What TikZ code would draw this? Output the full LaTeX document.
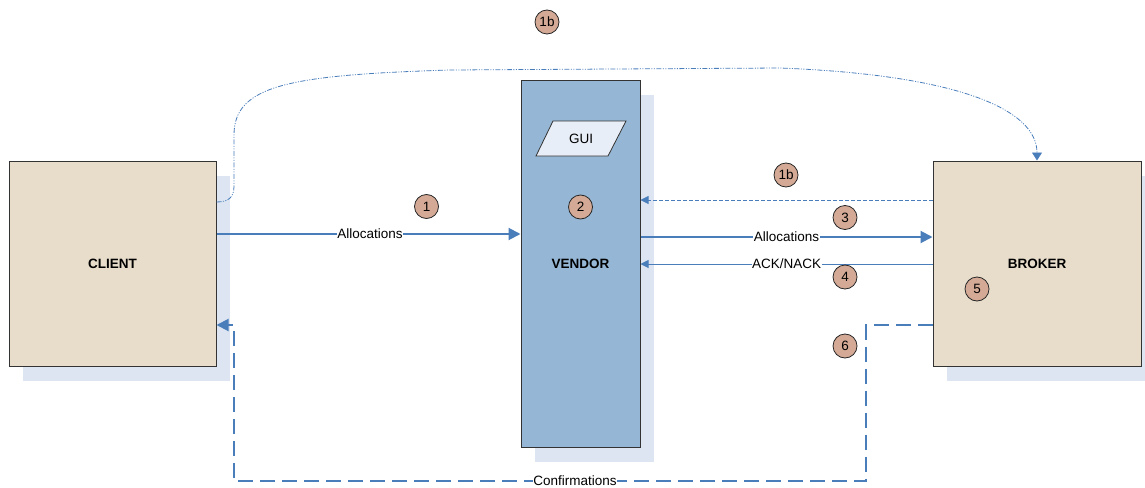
\documentclass[tikz,border=0pt]{standalone}
\usepackage{fontspec}
\setmainfont{Liberation Sans}
\usetikzlibrary{arrows.meta,shapes.geometric,shadows,calc}
\definecolor{boxc}{HTML}{E8DDCB}
\definecolor{vendc}{HTML}{95B7D5}
\definecolor{guic}{HTML}{E8EEF8}
\definecolor{shadc}{HTML}{DCE5F1}
\definecolor{numc}{HTML}{D4AA96}
\definecolor{linec}{HTML}{4A7EBB}
\begin{document}
\begin{tikzpicture}[x=1pt,y=-1pt,
  font=\fontsize{13.5}{16}\selectfont,
  entity/.style={draw=black!80, line width=1pt, fill=boxc, inner sep=0pt,
    font=\fontsize{13.5}{16}\selectfont\bfseries,
    drop shadow={shadow xshift=14pt, shadow yshift=-15pt, opacity=1, fill=shadc}},
  guishape/.style={draw=black!80, line width=0.8pt, fill=guic},
  num/.style={circle, draw=black!85, line width=0.8pt, fill=numc, minimum size=24pt, inner sep=0pt},
  lbl/.style={fill=white, inner sep=0.5pt},
  flow/.style={draw=linec, line width=2pt, -{Triangle[length=12pt,width=12pt]}},
  ackline/.style={draw=linec, line width=1pt, -{Triangle[length=8pt,width=8pt]}},
  dashline/.style={draw=linec, line width=0.8pt, dash pattern=on 4pt off 2pt, -{Triangle[length=8pt,width=8pt]}},
  confline/.style={draw=linec, line width=2pt, dash pattern=on 15pt off 7pt, -{Triangle[length=12pt,width=12pt]}},
  curvy/.style={draw=linec, line width=0.8pt, dash pattern=on 5pt off 1.5pt on 1pt off 1.5pt on 1pt off 1.5pt, -{Triangle[length=8pt,width=10pt]}}
]
\useasboundingbox (0,0) rectangle (1145,487);

% entities
\node[entity, minimum width=207pt, minimum height=205pt] (client) at (112.5,263.5) {CLIENT};
\node[entity, fill=vendc, minimum width=119pt, minimum height=367pt] (vendor) at (580.5,263.5) {VENDOR};
\node[entity, minimum width=208pt, minimum height=205pt] (broker) at (1037,263.5) {BROKER};

% GUI parallelogram
\path[guishape] (553,121) -- (626,121) -- (608,156) -- (536,156) -- cycle;
\node[inner sep=0pt] (gui) at (581,138.5) {GUI};

% rows
\coordinate (r200) at (0,200);
\coordinate (r202) at (0,202);
\coordinate (r234) at (0,234);
\coordinate (r237) at (0,237);
\coordinate (r264) at (0,264);
\coordinate (r325) at (0,325);
\coordinate (cb1) at (866,481);
\coordinate (cb2) at (234,481);
\coordinate (k1) at (234,186);
\coordinate (k2) at (234,135);
\coordinate (k3) at (450,70);
\coordinate (k4) at (780,68);

% connectors
\draw[flow] (client.east |- r234) -- node[lbl, pos=0.505] (lal1) {Allocations} (vendor.west |- r234);
\draw[flow] (vendor.east |- r237) -- node[lbl, pos=0.5] (lal2) {Allocations} (broker.west |- r237);
\draw[ackline] (broker.west |- r264) -- node[lbl, pos=0.5] (lack) {ACK/NACK} (vendor.east |- r264);
\draw[dashline] (broker.west |- r200) -- (vendor.east |- r200);
\draw[confline] (broker.west |- r325) -| (cb1) -- (cb2) |- (client.east |- r325);
\node[lbl] (lconf) at (575,481) {Confirmations};
\draw[curvy] (client.east |- r202) .. controls (229,202) and (234,197) .. (k1) -- (k2)
  .. controls (234,85) and (290,75) .. (k3) -- (k4)
  .. controls (960,75) and (1037,110) .. (broker.north);

% numbered markers
\node[num] (n1b) at (547,22) {1b};
\node[num] (n1) at (426.5,206.5) {1};
\node[num] (n2) at (580.5,207) {2};
\node[num] (n1bm) at (786,175) {1b};
\node[num] (n3) at (845,217.5) {3};
\node[num] (n4) at (845,277) {4};
\node[num] (n5) at (977,289) {5};
\node[num] (n6) at (845,346) {6};
\end{tikzpicture}
\end{document}
